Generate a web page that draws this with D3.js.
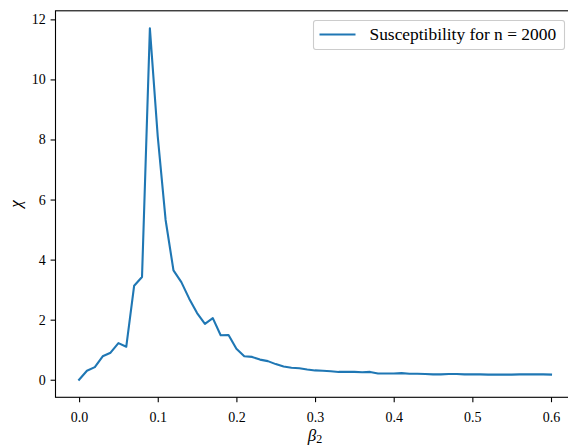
<!DOCTYPE html>
<html>
<head>
<meta charset="utf-8">
<script src="https://cdn.jsdelivr.net/npm/d3@7"></script>
<style>
  body { margin: 0; background: #fff; }
  svg  { display: block; }
</style>
</head>
<body>
<div id="chart"></div>
<script>
// beta_2 grid and susceptibility
var betaValues = [0.00, 0.01, 0.02, 0.03, 0.04, 0.05, 0.06, 0.07, 0.08, 0.09,
                  0.10, 0.11, 0.12, 0.13, 0.14, 0.15, 0.16, 0.17, 0.18, 0.19,
                  0.20, 0.21, 0.22, 0.23, 0.24, 0.25, 0.26, 0.27, 0.28, 0.29,
                  0.30, 0.31, 0.32, 0.33, 0.34, 0.35, 0.36, 0.37, 0.38, 0.39,
                  0.40, 0.41, 0.42, 0.43, 0.44, 0.45, 0.46, 0.47, 0.48, 0.49,
                  0.50, 0.51, 0.52, 0.53, 0.54, 0.55, 0.56, 0.57, 0.58, 0.59,
                  0.60];
var chiValues  = [0.00, 0.30, 0.42, 0.78, 0.90, 1.22, 1.10, 3.13, 3.42, 11.70,
                  8.10, 5.32, 3.64, 3.25, 2.70, 2.22, 1.86, 2.05, 1.48, 1.49,
                  1.03, 0.78, 0.76, 0.67, 0.62, 0.52, 0.44, 0.40, 0.38, 0.34,
                  0.31, 0.30, 0.28, 0.26, 0.26, 0.26, 0.25, 0.26, 0.21, 0.21,
                  0.21, 0.22, 0.20, 0.20, 0.19, 0.18, 0.18, 0.19, 0.19, 0.18,
                  0.18, 0.18, 0.17, 0.17, 0.17, 0.17, 0.18, 0.18, 0.18, 0.18,
                  0.17];
var xTicks     = [0.0, 0.1, 0.2, 0.3, 0.4, 0.5, 0.6];
var yTicks     = [0, 2, 4, 6, 8, 10, 12];
var legendText = "Susceptibility for n = 2000";

var gWidth  = 568;
var gHeight = 446;
// axes box (right side runs past the cropped image edge, as in the reference)
var gBox    = {left: 55.5, right: 574.6, top: 10.8, bottom: 397.3};
var gBlue   = "#1f77b4";
var gFont   = "Liberation Serif, Times New Roman, serif";

var lData = betaValues.map(function (b, i) { return {x: b, y: chiValues[i]}; });

var xPad = 0.05 * (d3.max(betaValues) - d3.min(betaValues));
var yPad = 0.05 * (d3.max(chiValues) - d3.min(chiValues));

var x = d3.scaleLinear()
          .domain([d3.min(betaValues) - xPad, d3.max(betaValues) + xPad])
          .range([gBox.left, gBox.right]);
var y = d3.scaleLinear()
          .domain([d3.min(chiValues) - yPad, d3.max(chiValues) + yPad])
          .range([gBox.bottom, gBox.top]);

var svg = d3.select("#chart").append("svg")
            .attr("width", gWidth)
            .attr("height", gHeight)
            .attr("font-family", gFont);

// line first, spines drawn over it
svg.append("path")
    .datum(lData)
    .attr("fill", "none")
    .attr("stroke", gBlue)
    .attr("stroke-width", 2.1)
    .attr("stroke-linejoin", "round")
    .attr("stroke-linecap", "square")
    .attr("d", d3.line().x(function (d) { return x(d.x); }).y(function (d) { return y(d.y); }));

var xAxis = svg.append("g")
    .attr("transform", "translate(0," + gBox.bottom + ")")
    .call(d3.axisBottom(x).tickValues(xTicks).tickFormat(d3.format(".1f")).tickSize(4.9).tickPadding(4.9));

var yAxis = svg.append("g")
    .attr("transform", "translate(" + gBox.left + ",0)")
    .call(d3.axisLeft(y).tickValues(yTicks).tickFormat(d3.format("d")).tickSize(4.9).tickPadding(4.9));

[xAxis, yAxis].forEach(function (ax) {
  ax.attr("font-family", gFont).attr("font-size", 14);
  ax.select(".domain").remove();
  ax.selectAll("line").attr("stroke", "#000").attr("stroke-width", 1.1);
  ax.selectAll("text").attr("fill", "#000").attr("font-family", gFont);
});
xAxis.selectAll("text").attr("dy", "1.04em");

// spines
svg.append("rect")
    .attr("x", gBox.left)
    .attr("y", gBox.top)
    .attr("width", gBox.right - gBox.left)
    .attr("height", gBox.bottom - gBox.top)
    .attr("fill", "none")
    .attr("stroke", "#000")
    .attr("stroke-width", 1.1);

// axis labels
var xLabel = svg.append("text")
    .attr("x", (x(0) + x(0.6)) / 2)
    .attr("y", 440.5)
    .attr("text-anchor", "middle")
    .attr("font-family", gFont)
    .attr("font-size", 17);
xLabel.append("tspan").attr("font-style", "italic").text("β");
xLabel.append("tspan").attr("dy", 2.5).attr("font-size", 12).text("2");

svg.append("text")
    .attr("transform", "translate(20.5," + ((gBox.top + gBox.bottom) / 2) + ") rotate(-90)")
    .attr("text-anchor", "middle")
    .attr("font-family", gFont)
    .attr("font-size", 17)
    .attr("font-style", "italic")
    .text("χ");

// legend
var lLegend = svg.append("g");
lLegend.append("rect")
    .attr("x", 313.5)
    .attr("y", 20.5)
    .attr("width", 251)
    .attr("height", 29)
    .attr("rx", 2.5)
    .attr("fill", "#fff")
    .attr("fill-opacity", 0.8)
    .attr("stroke", "#cccccc")
    .attr("stroke-width", 1.1);
lLegend.append("line")
    .attr("x1", 319.5)
    .attr("x2", 355.5)
    .attr("y1", 34.5)
    .attr("y2", 34.5)
    .attr("stroke", gBlue)
    .attr("stroke-width", 2.1);
lLegend.append("text")
    .attr("x", 369.5)
    .attr("y", 39.5)
    .attr("font-family", gFont)
    .attr("font-size", 17.4)
    .text(legendText);
</script>
</body>
</html>
